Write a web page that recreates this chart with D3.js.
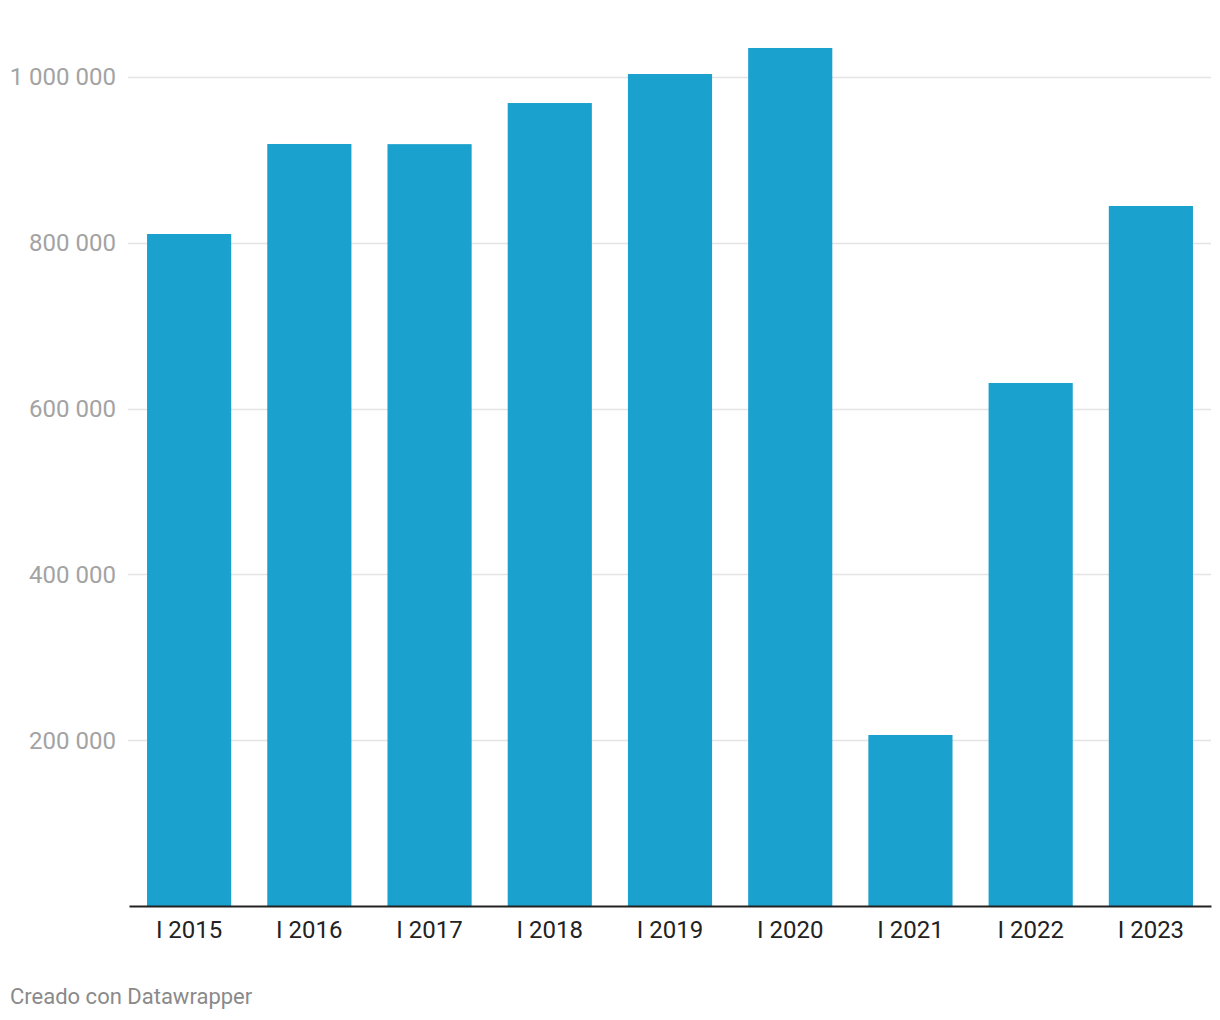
<!DOCTYPE html>
<html>
<head>
<meta charset="utf-8">
<script src="https://cdn.jsdelivr.net/npm/d3@7"></script>
<style>
  body { margin: 0; background: #fff; }
  text { font-family: Roboto, "Noto Sans", sans-serif; }
</style>
</head>
<body>
<script>
// data
const categories = ["I 2015", "I 2016", "I 2017", "I 2018", "I 2019", "I 2020", "I 2021", "I 2022", "I 2023"];
const values = [810600, 919200, 919000, 968600, 1003600, 1035000, 206300, 630900, 844400];
const yTicks = [200000, 400000, 600000, 800000, 1000000];
const creditText = "Creado con Datawrapper";

const svgWidth = 1220;
const svgHeight = 1020;

const margin = { top: 20, right: 9, bottom: 114, left: 128 };
const chartWidth = svgWidth - margin.left - margin.right;
const chartHeight = svgHeight - margin.top - margin.bottom;

const svg = d3.select("body").append("svg")
  .attr("width", svgWidth)
  .attr("height", svgHeight);

const chartGroup = svg.append("g")
  .attr("transform", `translate(${margin.left}, ${margin.top})`);

const x = d3.scaleBand()
  .domain(categories)
  .range([1, chartWidth])
  .paddingInner(0.3)
  .paddingOuter(0.15);

// 0 at baseline (y=906), 1 000 000 at y=77
const y = d3.scaleLinear()
  .domain([0, 1000000])
  .range([chartHeight, 77 - margin.top]);

const fmt = (v) => d3.format(",")(v).replace(/,/g, " ");

// gridlines
chartGroup.append("g")
  .selectAll("line")
  .data(yTicks)
  .join("line")
  .attr("x1", 0)
  .attr("x2", chartWidth)
  .attr("y1", (d) => Math.round(y(d)) + 0.5)
  .attr("y2", (d) => Math.round(y(d)) + 0.5)
  .attr("stroke", "#e4e4e4")
  .attr("stroke-width", 1.5);

// y labels
chartGroup.append("g")
  .selectAll("text")
  .data(yTicks)
  .join("text")
  .attr("x", -12)
  .attr("y", (d) => y(d))
  .attr("dy", "0.35em")
  .attr("text-anchor", "end")
  .attr("fill", "#a3a3a3")
  .attr("font-size", "24px")
  .text(fmt);

// bars
chartGroup.selectAll(".bar")
  .data(values)
  .join("rect")
  .attr("class", "bar")
  .attr("x", (d, i) => x(categories[i]))
  .attr("width", x.bandwidth())
  .attr("y", (d) => y(d))
  .attr("height", (d) => chartHeight - y(d))
  .attr("fill", "#1aa1cd");

// baseline + x labels
const bottomAxis = d3.axisBottom(x).tickSize(0).tickPadding(15);
const xAxisG = chartGroup.append("g")
  .attr("transform", `translate(0, ${chartHeight})`)
  .call(bottomAxis);
xAxisG.select(".domain").attr("stroke", "#222").attr("stroke-width", 2);
xAxisG.selectAll("text")
  .attr("font-family", "Roboto, sans-serif")
  .attr("font-size", "24px")
  .attr("fill", "#222");

// credit
svg.append("text")
  .attr("x", 10)
  .attr("y", 1004)
  .attr("fill", "#8a8a8a")
  .attr("font-size", "22px")
  .text(creditText);
</script>
</body>
</html>
